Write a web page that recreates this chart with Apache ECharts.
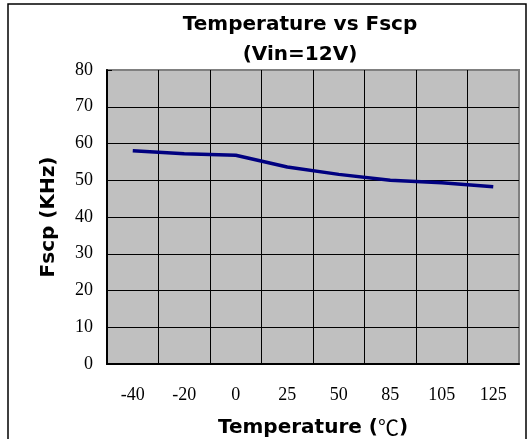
<!DOCTYPE html>
<html>
<head>
<meta charset="utf-8">
<script src="https://cdn.jsdelivr.net/npm/echarts@6/dist/echarts.min.js"></script>
<style>
html,body{margin:0;padding:0;background:#fff;}
#chart{width:527px;height:439px;}
</style>
</head>
<body>
<div id="chart"></div>
<script>
const categories = ['-40', '-20', '0', '25', '50', '85', '105', '125'];
const fscpValues = [58, 57.2, 56.8, 53.6, 51.6, 50, 49.3, 48.2];
const yTicks = [0, 10, 20, 30, 40, 50, 60, 70, 80];
const titleLines = ['Temperature vs Fscp', '(Vin=12V)'];
const xAxisTitle = 'Temperature (℃)';
const yAxisTitle = 'Fscp (KHz)';

const chart = echarts.init(document.getElementById('chart'), null, {renderer: 'canvas'});
const boldFont = 'DejaVu Sans';
const serifFont = 'Liberation Serif';

const ySplitColors = yTicks.map(function (v, i) { return i === yTicks.length - 1 ? '#808080' : '#000'; });
const xSplitColors = categories.map(function () { return '#000'; }).concat(['#808080']);

chart.setOption({
  animation: false,
  backgroundColor: '#ffffff',
  grid: {left: 107, right: 8, top: 70, bottom: 75, show: true, containLabel: false, outerBoundsMode: 'none',
    backgroundColor: '#c0c0c0', borderColor: '#808080', borderWidth: 2},
  graphic: [
    {type: 'rect', shape: {x: 8, y: 4, width: 518, height: 445}, style: {fill: 'none', stroke: '#000', lineWidth: 1.5}, silent: true, z: -1},
    {type: 'text', x: 300, y: 15, style: {text: titleLines[0], font: 'bold 20px "' + boldFont + '"', fill: '#000', textAlign: 'center', textVerticalAlign: 'top'}},
    {type: 'text', x: 300, y: 45, style: {text: titleLines[1], font: 'bold 20px "' + boldFont + '"', fill: '#000', textAlign: 'center', textVerticalAlign: 'top'}}
  ],
  xAxis: {
    type: 'category',
    data: categories,
    boundaryGap: true,
    name: xAxisTitle.replace('℃', '{c|℃}'),
    nameLocation: 'middle',
    nameGap: 53,
    nameTextStyle: {fontFamily: boldFont, fontWeight: 'bold', fontSize: 20, color: '#000',
      rich: {c: {fontFamily: 'Noto Sans CJK TC', fontWeight: 'normal', fontSize: 21, color: '#000'}}},
    axisLine: {show: true, lineStyle: {color: '#000', width: 2}},
    axisTick: {show: false},
    axisLabel: {margin: 22, fontFamily: serifFont, fontSize: 18, color: '#000'},
    splitLine: {show: true, interval: 0, lineStyle: {color: xSplitColors, width: 1}}
  },
  yAxis: {
    type: 'value',
    min: 0, max: 80, interval: 10,
    name: yAxisTitle,
    nameLocation: 'middle',
    nameGap: 48,
    nameRotate: 90,
    nameTextStyle: {fontFamily: boldFont, fontWeight: 'bold', fontSize: 20, color: '#000'},
    axisLine: {show: true, lineStyle: {color: '#000', width: 2}},
    axisTick: {show: true, inside: true, length: 5, lineStyle: {color: '#000', width: 1}},
    axisLabel: {margin: 14, fontFamily: serifFont, fontSize: 18, color: '#000',
      formatter: function (v) { return yTicks.indexOf(v) >= 0 ? String(v) : ''; }},
    splitLine: {show: true, lineStyle: {color: ySplitColors, width: 1}}
  },
  series: [{
    type: 'line',
    data: fscpValues,
    symbol: 'none',
    smooth: false,
    lineStyle: {color: '#000080', width: 3.5},
    itemStyle: {color: '#000080'}
  }]
});
</script>
</body>
</html>
